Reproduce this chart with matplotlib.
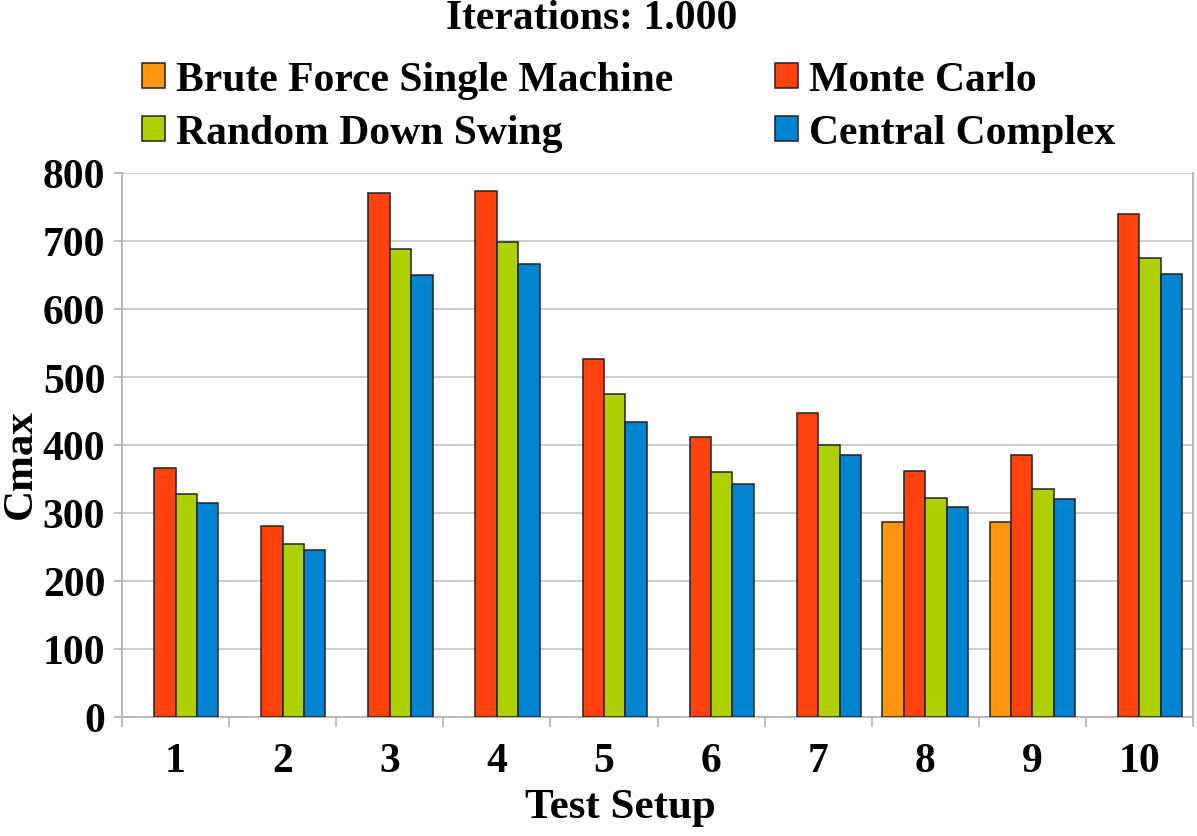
import matplotlib
matplotlib.use("Agg")
import matplotlib.pyplot as plt
import numpy as np

# === Datos ===
setups = ["1", "2", "3", "4", "5", "6", "7", "8", "9", "10"]
brute_force = [np.nan, np.nan, np.nan, np.nan, np.nan, np.nan, np.nan, 287, 287, np.nan]
monte_carlo = [366, 281, 771, 773, 526, 412, 447, 362, 385, 739]
random_down_swing = [328, 255, 688, 698, 475, 361, 400, 322, 336, 675]
central_complex = [315, 245, 650, 666, 434, 343, 385, 309, 321, 652]

series_names = ["Brute Force Single Machine", "Monte Carlo",
                "Random Down Swing", "Central Complex"]
series_values = [brute_force, monte_carlo, random_down_swing, central_complex]
colors = ["#ff950e", "#ff420e", "#aecf00", "#0084d1"]
y_ticks = [0, 100, 200, 300, 400, 500, 600, 700, 800]

plt.rcParams["font.family"] = ["Liberation Serif", "DejaVu Serif"]
plt.rcParams["font.weight"] = "bold"

W, H = 1197, 837
fig = plt.figure(figsize=(W / 100, H / 100), dpi=100)
ax = fig.add_axes([122 / W, 1 - 718 / H, (1193 - 122) / W, (718 - 174) / H])

x = np.arange(len(setups))
w = 0.2
handles = []
for k, (name, vals, c) in enumerate(zip(series_names, series_values, colors)):
    b = ax.bar(x + (k - 1.5) * w, vals, w, color=c, edgecolor="#222222",
               linewidth=1.1, label=name, zorder=3)
    handles.append(b)

# === Ejes ===
ax.set_xlim(-0.5, len(setups) - 0.5)
ax.set_ylim(0, 800)
ax.set_yticks(y_ticks)
ax.set_yticklabels([str(v) for v in y_ticks])
ax.set_xticks(x)
ax.set_xticklabels(setups)
ax.set_xticks(np.arange(-0.5, len(setups), 1.0), minor=True)
ax.tick_params(axis="x", which="major", length=0, pad=18, labelsize=30)
ax.tick_params(axis="x", which="minor", length=7, color="#b3b3b3", width=1.2)
ax.tick_params(axis="y", which="major", length=6, color="#b3b3b3", width=1.2,
               pad=6, labelsize=30)
ax.grid(axis="y", color="#c8c8c8", linewidth=1.3, zorder=0)
for s in ["left", "bottom", "right"]:
    ax.spines[s].set_color("#b3b3b3")
    ax.spines[s].set_linewidth(1.3)
ax.spines["top"].set_visible(False)

# etiquetas de ejes
fig.text(620 / W, 1 - 808 / H, "Test Setup", ha="center", va="center",
         fontsize=31, fontweight="bold")
fig.text(21 / W, 1 - 464 / H, "Cmax", ha="center", va="center", rotation=90,
         fontsize=31, fontweight="bold")

fig.text(592 / W, 1 - 19 / H, "Iterations: 1.000", ha="center", va="center",
         fontsize=30, fontweight="bold")

# leyenda en dos columnas
order = [0, 2, 1, 3]
leg = fig.legend([handles[i] for i in order], [series_names[i] for i in order],
                 ncol=2, loc="upper left", bbox_to_anchor=(142 / W, 1 - 62 / H),
                 frameon=False, fontsize=30, handlelength=0.55, handleheight=0.55,
                 handletextpad=0.26, columnspacing=2.45, labelspacing=0.37,
                 borderpad=0, borderaxespad=0)

fig.savefig("out.png", dpi=100)
